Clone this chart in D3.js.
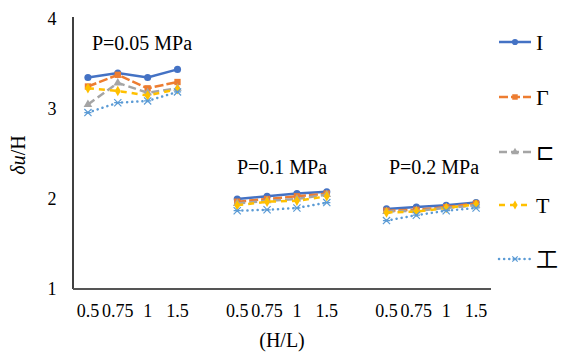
<!DOCTYPE html>
<html>
<head>
<meta charset="utf-8">
<script src="https://cdn.jsdelivr.net/npm/d3@7"></script>
<style>
  body { margin: 0; background: #fff; }
  text { font-family: "Liberation Serif", "Times New Roman", serif; fill: #000; }
</style>
</head>
<body>
<svg id="chart" width="561" height="353"></svg>
<script>
// categories on the x axis, repeated for each pressure
var ratios = ["0.5", "0.75", "1", "1.5"];
var pressures = ["P=0.05 MPa", "P=0.1 MPa", "P=0.2 MPa"];
var yTicks = [1, 2, 3, 4];

// one list per section shape, 4 values per pressure group
var seriesNames = ["I", "Γ", "⊏", "T", "工"];
var valsI  = [3.35, 3.40, 3.35, 3.44,  2.00, 2.03, 2.06, 2.08,  1.89, 1.91, 1.93, 1.96];
var valsL  = [3.25, 3.38, 3.23, 3.30,  1.97, 2.00, 2.03, 2.06,  1.87, 1.88, 1.91, 1.95];
var valsC  = [3.05, 3.29, 3.18, 3.23,  1.95, 1.98, 2.00, 2.05,  1.86, 1.87, 1.90, 1.93];
var valsT  = [3.23, 3.20, 3.15, 3.22,  1.93, 1.97, 1.98, 2.03,  1.85, 1.86, 1.90, 1.94];
var valsH  = [2.96, 3.07, 3.09, 3.19,  1.87, 1.88, 1.90, 1.96,  1.76, 1.82, 1.87, 1.90];

var colors = ["#4472c4", "#ed7d31", "#a5a5a5", "#ffc000", "#5b9bd5"];
var dashes = [null, "9,3", "8,4", "6,5", "0.1,5"];
var caps = ["butt", "butt", "butt", "butt", "round"];

var svg = d3.select("#chart");
var margin = { left: 73, right: 70, top: 19, bottom: 64 };
var W = 561, H = 353;

// slots: 4 ratios, blank slot, 4 ratios, blank slot, 4 ratios
var slots = [];
pressures.forEach(function(p, gi) {
  ratios.forEach(function(r) { slots.push(gi + "|" + r); });
  if (gi < pressures.length - 1) slots.push("gap" + gi);
});

var x = d3.scaleBand().domain(slots).range([margin.left, W - margin.right]);
var y = d3.scaleLinear().domain([1, 4]).range([H - margin.bottom, margin.top]);

// axes
svg.append("line")
  .attr("x1", margin.left).attr("x2", margin.left)
  .attr("y1", y(4) - 2).attr("y2", y(1))
  .attr("stroke", "#000").attr("stroke-width", 1.5);
svg.append("line")
  .attr("x1", margin.left).attr("x2", W - margin.right)
  .attr("y1", y(1)).attr("y2", y(1))
  .attr("stroke", "#555").attr("stroke-width", 2);

svg.selectAll(".ytick").data(yTicks).enter().append("text")
  .attr("x", 52).attr("y", function(d) { return y(d) + 6; })
  .attr("text-anchor", "middle").style("font-size", "18px")
  .text(function(d) { return d; });

slots.forEach(function(s) {
  if (s.indexOf("gap") === 0) return;
  svg.append("text")
    .attr("x", x(s) + x.bandwidth() / 2).attr("y", 317)
    .attr("text-anchor", "middle").style("font-size", "18px")
    .text(s.split("|")[1]);
});

svg.append("text").attr("x", 282).attr("y", 347)
  .attr("text-anchor", "middle").style("font-size", "20px").text("(H/L)");

// y title
var yt = svg.append("text")
  .attr("transform", "translate(25,155) rotate(-90)")
  .attr("text-anchor", "middle").style("font-size", "20px");
yt.append("tspan").style("font-style", "italic").text("δ");
yt.append("tspan").style("font-style", "italic").text("u");
yt.append("tspan").text("/H");

// pressure labels
var pLabelPos = [[142, 50], [282, 174], [434, 174]];
pressures.forEach(function(p, i) {
  svg.append("text").attr("x", pLabelPos[i][0]).attr("y", pLabelPos[i][1])
    .attr("text-anchor", "middle").style("font-size", "20px").text(p);
});

// marker shapes
function markerPath(k, size) {
  if (k === 0) return d3.symbol(d3.symbolCircle, size * 5)();
  if (k === 1) return d3.symbol(d3.symbolSquare, size * 5)();
  if (k === 2) return d3.symbol(d3.symbolTriangle, size * 4)();
  if (k === 3) return d3.symbol(d3.symbolDiamond, size * 4)();
  var r = size * 0.45;
  return "M" + (-r) + "," + (-r) + "L" + r + "," + r +
         "M" + (-r) + "," + r + "L" + r + "," + (-r) +
         "M" + (-r) + ",0L" + r + ",0";
}

var allVals = [valsI, valsL, valsC, valsT, valsH];
var line = d3.line()
  .x(function(d) { return x(d.slot) + x.bandwidth() / 2; })
  .y(function(d) { return y(d.v); });

allVals.forEach(function(vals, k) {
  var g = svg.append("g");
  pressures.forEach(function(p, gi) {
    var pts = ratios.map(function(r, ri) {
      return { slot: gi + "|" + r, v: vals[gi * 4 + ri] };
    });
    g.append("path").datum(pts).attr("d", line)
      .attr("fill", "none").attr("stroke", colors[k])
      .attr("stroke-width", 2.5)
      .attr("stroke-dasharray", dashes[k])
      .attr("stroke-linecap", caps[k]);
    g.selectAll(null).data(pts).enter().append("path")
      .attr("transform", function(d) {
        return "translate(" + (x(d.slot) + x.bandwidth() / 2) + "," + y(d.v) + ")";
      })
      .attr("d", markerPath(k, 8))
      .attr("fill", k === 4 ? "none" : colors[k])
      .attr("stroke", colors[k])
      .attr("stroke-width", k === 4 ? 1.2 : 0);
  });
});

// legend
var legY = [42, 97, 152, 205, 259];
seriesNames.forEach(function(name, k) {
  var lg = svg.append("g").attr("transform", "translate(0," + legY[k] + ")");
  lg.append("line").attr("x1", 499).attr("x2", 531)
    .attr("stroke", colors[k]).attr("stroke-width", 2.5)
    .attr("stroke-dasharray", dashes[k]).attr("stroke-linecap", caps[k]);
  lg.append("path").attr("transform", "translate(515,0)")
    .attr("d", markerPath(k, 6))
    .attr("fill", k === 4 ? "none" : colors[k])
    .attr("stroke", colors[k]).attr("stroke-width", k === 4 ? 1.2 : 0);
  lg.append("text").attr("x", 536).attr("y", 8)
    .style("font-size", "22px")
    .style("font-family", k === 4 ? "'Noto Sans CJK SC'" : null)
    .text(name);
});
</script>
</body>
</html>
